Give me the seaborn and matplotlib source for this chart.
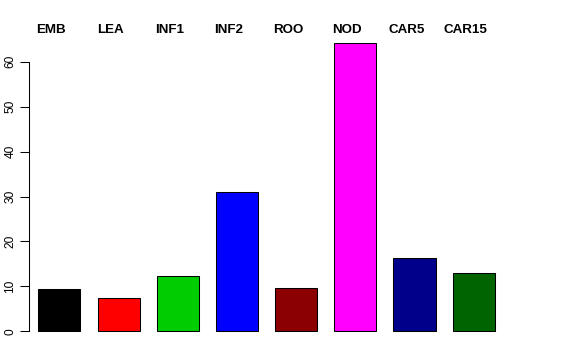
import pandas as pd
import matplotlib
matplotlib.use('Agg')
import matplotlib.pyplot as plt
import seaborn as sns

# Данные
tissues = ['EMB', 'LEA', 'INF1', 'INF2', 'ROO', 'NOD', 'CAR5', 'CAR15']
values = [9.5, 7.3, 12.2, 31.1, 9.6, 64.2, 16.4, 13.0]
colors = ['#000000', '#FF0000', '#00CD00', '#0000FF',
          '#8B0000', '#FF00FF', '#00008B', '#006400']
y_ticks = [0, 10, 20, 30, 40, 50, 60]

df = pd.DataFrame({'tissue': tissues, 'value': values})

sns.set_style('white', {'text.color': 'black', 'axes.labelcolor': 'black',
                        'ytick.color': 'black', 'axes.edgecolor': 'black'})
plt.rcParams['font.family'] = ['Liberation Sans', 'DejaVu Sans']

fig = plt.figure(figsize=(5.76, 3.6), dpi=100)
ax = fig.add_axes([0.0509, 0.0478, 0.8236, 0.865])

sns.barplot(data=df, x='tissue', y='value', hue='tissue',
            palette=dict(zip(tissues, colors)), legend=False,
            width=0.71, edgecolor='black', linewidth=0.75,
            saturation=1, ax=ax)

ax.set_xlim(-0.507, 7.507)
ax.set_ylim(-0.04 * max(values), max(values) * 1.04)

# Ось Y в стиле R
ax.set_yticks(y_ticks)
ax.set_yticklabels([str(t) for t in y_ticks], rotation=90, va='center',
                   fontsize=8.6, color='black')
ax.tick_params(axis='y', direction='out', length=6.2, width=0.75,
               left=True, pad=3, colors='black')
ax.spines['left'].set_bounds(0, 60)
ax.spines['left'].set_linewidth(0.75)
ax.spines['left'].set_color('black')
for side in ['top', 'right', 'bottom']:
    ax.spines[side].set_visible(False)

ax.set_xticks([])
ax.set_xlabel('')
ax.set_ylabel('')

# Подписи над графиком
for i, name in enumerate(tissues):
    ax.text(i - 0.135, 1.0054, name, transform=ax.get_xaxis_transform(),
            ha='center', va='center', fontsize=9.6, fontweight='bold',
            color='black', clip_on=False)

plt.savefig('out.png', dpi=100)
